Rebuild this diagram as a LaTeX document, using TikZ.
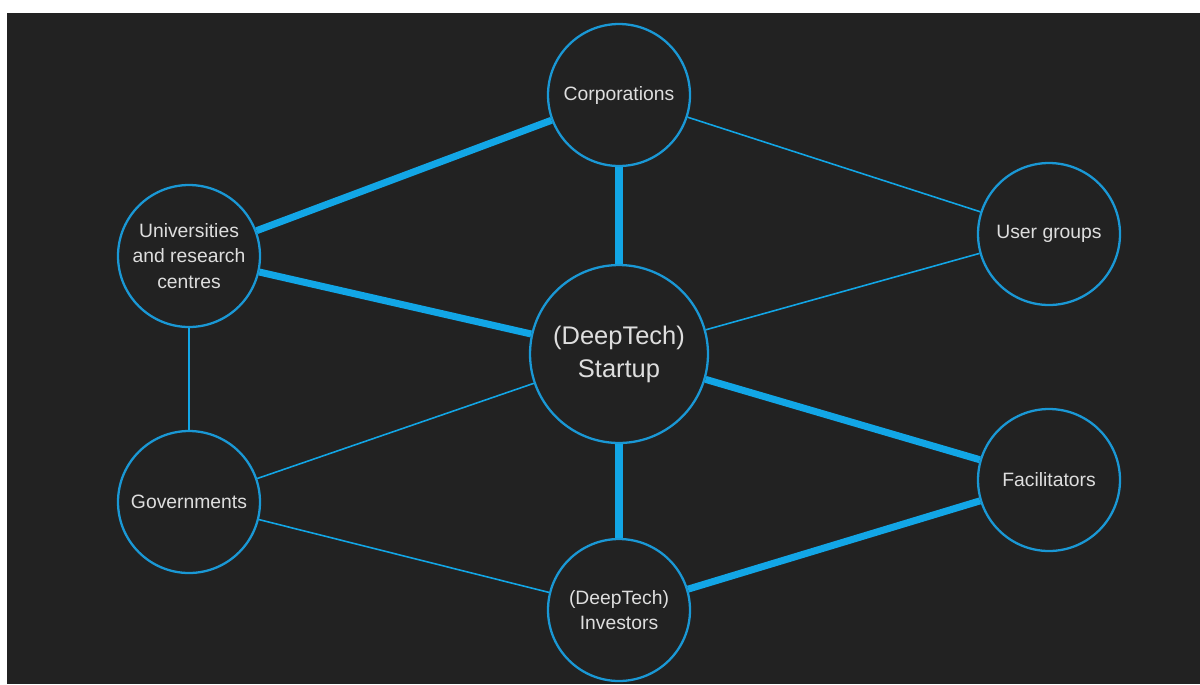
\documentclass[tikz,border=0pt]{standalone}
\usepackage{fontspec}
\setmainfont{Liberation Sans}
\definecolor{panel}{HTML}{222222}
\definecolor{ring}{HTML}{1A98D5}
\definecolor{link}{HTML}{12A6E6}
\definecolor{label}{HTML}{DEDEDE}
\begin{document}
\begin{tikzpicture}[x=0.02cm,y=-0.02cm,
  actor/.style={circle,draw=ring,line width=1.3pt,fill=panel,minimum size=2.84cm,inner sep=0pt,
    text=label,font=\fontsize{11}{14.6}\selectfont,align=center},
  core/.style={actor,minimum size=3.56cm,font=\fontsize{14.5}{18.7}\selectfont},
  strong/.style={draw=link,line width=4pt},
  weak/.style={draw=link,line width=0.9pt}]
  % canvas
  \fill[white] (0,0) rectangle (1200,684);
  \fill[panel] (7,13) rectangle (1200,684);
  \useasboundingbox (0,0) rectangle (1200,684);
  % stakeholders
  \node[actor] (corp) at (619,95) {Corporations};
  \node[actor] (univ) at (189,256) {Universities\\and research\\centres};
  \node[actor] (user) at (1049,234) {User groups};
  \node[core]  (start) at (619,354) {(DeepTech)\\Startup};
  \node[actor] (gov) at (189,502) {Governments};
  \node[actor] (fac) at (1049,480) {Facilitators};
  \node[actor] (inv) at (619,610) {(DeepTech)\\Investors};
  % strong ties
  \draw[strong] (univ) -- (corp);
  \draw[strong] (univ) -- (start);
  \draw[strong] (corp) -- (start);
  \draw[strong] (start) -- (fac);
  \draw[strong] (start) -- (inv);
  \draw[strong] (fac) -- (inv);
  % weak ties
  \draw[weak] (corp) -- (user);
  \draw[weak] (user) -- (start);
  \draw[weak] (univ) -- (gov);
  \draw[weak] (gov) -- (start);
  \draw[weak] (gov) -- (inv);
\end{tikzpicture}
\end{document}
